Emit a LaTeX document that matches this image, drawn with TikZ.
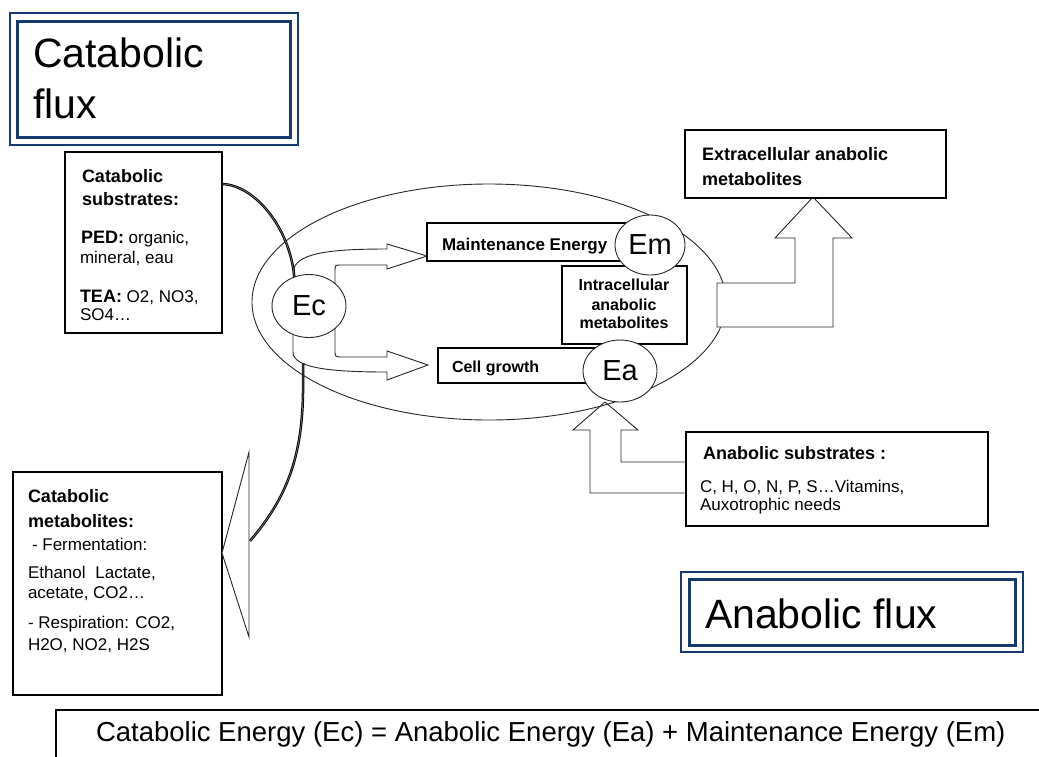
\documentclass[tikz,border=0pt]{standalone}
\usepackage{fontspec}
\setmainfont{Liberation Sans}
\usetikzlibrary{shapes.geometric}
\definecolor{fluxblue}{RGB}{22,58,110}
\newcommand\myfs[1]{\fontsize{#1}{#1}\selectfont}
\begin{document}
\begin{tikzpicture}[x=1pt,y=-1pt,
 box/.style={draw=black, line width=2.5pt, fill=white, rectangle, inner sep=0pt, outer sep=0pt, anchor=north west},
 fluxo/.style={draw=fluxblue, line width=1.4pt, rectangle, inner sep=0pt, outer sep=0pt, anchor=north west},
 fluxi/.style={draw=fluxblue, line width=3pt, rectangle, inner sep=0pt, outer sep=0pt, anchor=north west},
 circ/.style={ellipse, draw=black!85, fill=white, line width=0.9pt, inner sep=0pt, outer sep=0pt, font=\myfs{29}},
 blk/.style={draw=black!85, fill=white, line width=0.9pt, line join=miter},
 dbl/.style={draw=black, double=black!55, double distance=0.7pt, line width=0.9pt},
 txt/.style={anchor=base west, inner sep=0pt, outer sep=0pt},
 ctxt/.style={anchor=base, inner sep=0pt, outer sep=0pt},
 bt/.style={font={\bfseries\myfs{18}}},
 rt/.style={font={\myfs{17}}},
 st/.style={font={\bfseries\myfs{16}}},
 big/.style={font={\myfs{41}}}
]
\useasboundingbox (0,0) rectangle (1039,756);
\fill[white] (0,0) rectangle (1039,756);

% cell
\node[ellipse, draw=black!85, line width=0.9pt, minimum width=474pt, minimum height=236pt, inner sep=0pt] (cell) at (489,302) {};

% block arrows from Ec
\path[blk] (295,282) -- (294,268) .. controls (300,253) and (330,249) .. (387,249) -- (387,244) -- (427,256) -- (387,269) -- (387,265) -- (341,265) .. controls (335,265) .. (335,271) -- (335,288) -- cycle;
\path[blk] (293,325) -- (293,352) .. controls (293,368) and (330,372) .. (387,372) -- (387,380) -- (428,365) -- (387,351) -- (387,357) -- (343,357) .. controls (335,357) .. (335,350) -- (335,322) -- cycle;

% boxes in cell
\node[box, minimum width=198pt, minimum height=38pt] (me) at (427,223) {};
\node[box, minimum width=125pt, minimum height=78pt] (intra) at (562,266) {};
\node[box, minimum width=162pt, minimum height=35pt] (cg) at (438,348) {};

% circles
\node[circ, minimum width=74pt, minimum height=63pt] (Ec) at (309,306) {Ec};
\node[circ, minimum width=70pt, minimum height=60pt] (Em) at (650,245) {Em};
\node[circ, minimum width=74pt, minimum height=62pt] (Ea) at (620,371) {Ea};

% catabolic substrates box and connector
\node[box, minimum width=157pt, minimum height=181pt] (sub) at (65,152) {};
\draw[dbl] ([yshift=-32pt]sub.north east) .. controls (255,185) and (290,228) .. (Ec.117);

% downward connector to triangle
\coordinate (dstart) at (303,363);
\coordinate (tri) at (250,541);
\draw[dbl] (dstart) -- (303,393) .. controls (302,460) and (285,500) .. (tri);

% catabolic metabolites box and triangle
\node[box, minimum width=209pt, minimum height=223pt] (met) at (13,472) {};
\path[blk] (met.east |- 0,553) -- (249,452) -- (249,637) -- cycle;

% extracellular arrow and box
\path[blk] (717,327) -- (833,327) -- (833,238) -- (852,238) -- (813,197) -- (775,238) -- (795,238) -- (795,283) -- (717,283) -- cycle;
\node[box, minimum width=261pt, minimum height=68pt] (extra) at (685,130) {};

% anabolic substrates arrow and box
\draw[draw=black!85, line width=0.9pt] (687,493) -- (590,493) -- (590,430) -- (573,430) -- (605,402) -- (638,430) -- (621,430) -- (621,462) -- (687,462);
\node[box, minimum width=302pt, minimum height=94pt] (anasub) at (686,432) {};

% flux title boxes
\node[fluxo, minimum width=288pt, minimum height=132pt] (cfo) at (10,13) {};
\node[fluxi, minimum width=273pt, minimum height=116pt] (cfi) at (17,21) {};
\node[fluxo, minimum width=342pt, minimum height=80pt] (afo) at (681,572) {};
\node[fluxi, minimum width=326pt, minimum height=66pt] (afi) at (689,579) {};

% equation box
\node[box, minimum width=1000pt, minimum height=70pt] (eq) at (56,710) {};

% texts
\node[txt, big] (cft1) at (33,67) {Catabolic};
\node[txt, big] (cft2) at (33,118) {flux};
\node[txt, big] (aft) at (705,628) {Anabolic flux};

\node[txt, bt] (s1) at (82,182) {Catabolic};
\node[txt, bt] (s2) at (82,205) {substrates:};
\node[txt, rt] (s3) at (81,243) {\textbf{\myfs{18}PED:} organic,};
\node[txt, rt] (s4) at (80,263) {mineral, eau};
\node[txt, rt] (s5) at (80,302) {\textbf{\myfs{18}TEA:} O2, NO3,};
\node[txt, rt] (s6) at (80,320) {SO4…};

\node[txt, font={\bfseries\myfs{17}}] (met1) at (442,250) {Maintenance Energy};
\node[ctxt, st] (in1) at (624,290) {Intracellular};
\node[ctxt, st] (in2) at (624,310) {anabolic};
\node[ctxt, st] (in3) at (624,328) {metabolites};
\node[txt, st] (cg1) at (452,372) {Cell growth};

\node[txt, bt] (ex1) at (702,160) {Extracellular anabolic};
\node[txt, bt] (ex2) at (702,185) {metabolites};

\node[txt, bt] (an1) at (703,459) {Anabolic substrates :};
\node[txt, rt] (an2) at (700,492) {C, H, O, N, P, S…Vitamins,};
\node[txt, rt] (an3) at (700,510) {Auxotrophic needs};

\node[txt, bt] (m1) at (28,502) {Catabolic};
\node[txt, bt] (m2) at (28,527) {metabolites:};
\node[txt, rt] (m3) at (32,550) {- Fermentation:};
\node[txt, rt] (m4) at (28,578) {Ethanol\hspace{5pt} Lactate,};
\node[txt, rt] (m5) at (28,598) {acetate, CO2…};
\node[txt, rt] (m6) at (28,628) {- Respiration: CO2,};
\node[txt, rt] (m7) at (28,650) {H2O, NO2, H2S};

\node[txt, font={\myfs{27.5}}] (eqt) at (96,741) {Catabolic Energy (Ec) = Anabolic Energy (Ea) + Maintenance Energy (Em)};
\end{tikzpicture}
\end{document}
